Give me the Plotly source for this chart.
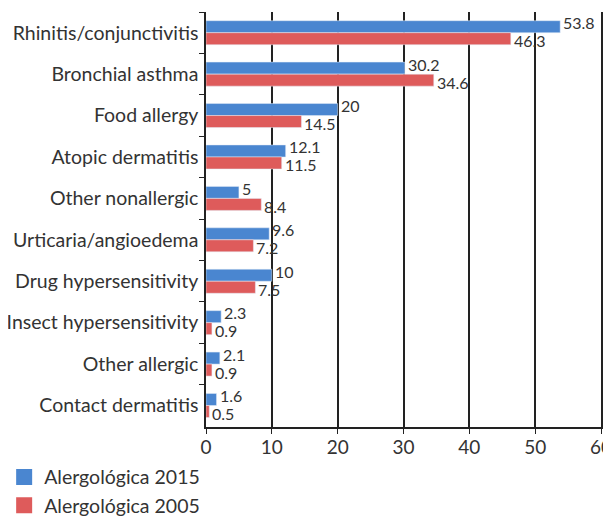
import plotly.graph_objects as go

categories = ["Rhinitis/conjunctivitis", "Bronchial asthma", "Food allergy", "Atopic dermatitis",
              "Other nonallergic", "Urticaria/angioedema", "Drug hypersensitivity",
              "Insect hypersensitivity", "Other allergic", "Contact dermatitis"]
values_2015 = [53.8, 30.2, 20, 12.1, 5, 9.6, 10, 2.3, 2.1, 1.6]
values_2005 = [46.3, 34.6, 14.5, 11.5, 8.4, 7.2, 7.5, 0.9, 0.9, 0.5]
x_ticks = [0, 10, 20, 30, 40, 50, 60]
series_names = ["Alergológica 2015", "Alergológica 2005"]
series_colors = ["#4A86D0", "#DE5B5B"]

FONT = "Lato"
TXT = "#333333"
LINE = "#222222"

fig = go.Figure()
for name, vals, col in zip(series_names, [values_2015, values_2005], series_colors):
    fig.add_trace(go.Bar(y=categories, x=vals, orientation="h", name=name,
                         marker_color=col, showlegend=False, cliponaxis=False))
for name, col in zip(series_names, series_colors):
    fig.add_trace(go.Scatter(x=[None], y=[None], mode="markers", name=name,
                             marker=dict(symbol="square", size=16, color=col)))

# value labels next to the bar ends
for vals, ysh in [(values_2015, 10), (values_2005, -8)]:
    for cat, v in zip(categories, vals):
        fig.add_annotation(x=v, y=cat, xref="x", yref="y", text=str(v), showarrow=False,
                           xanchor="left", yanchor="middle", xshift=1, yshift=ysh,
                           font=dict(family=FONT, size=16, color=TXT))

# page body has an 8px margin, so the figure is 8px smaller than the window
fig.update_layout(
    width=603, height=508,
    margin=dict(l=198, r=10, t=4, b=89, autoexpand=False),
    barmode="group", bargap=0.42, bargroupgap=0,
    plot_bgcolor="white", paper_bgcolor="white",
    font=dict(family=FONT, size=20, color=TXT),
    showlegend=True,
    legend=dict(x=-0.511, xanchor="left", y=-0.074, yanchor="top",
                font=dict(family=FONT, size=19.5, color=TXT),
                tracegroupgap=0, traceorder="normal",
                bgcolor="rgba(0,0,0,0)"),
    xaxis=dict(range=[0, 60], tickvals=x_ticks, showgrid=True, gridcolor=LINE, gridwidth=1.5,
               showline=True, linecolor=LINE, linewidth=1.5, ticks="outside",
               ticklen=5, tickcolor=LINE, zeroline=False, ticklabeloverflow="allow",
               ticklabelstandoff=-3,
               tickfont=dict(family=FONT, size=19, color=TXT)),
    yaxis=dict(autorange="reversed", showline=True, linecolor=LINE, linewidth=1.5, mirror=True,
               ticks="outside", tickson="boundaries", ticklen=5, tickcolor=LINE,
               ticklabelstandoff=2,
               showgrid=False, tickfont=dict(family=FONT, size=19.5, color=TXT)),
)

fig.write_html("out.html")
